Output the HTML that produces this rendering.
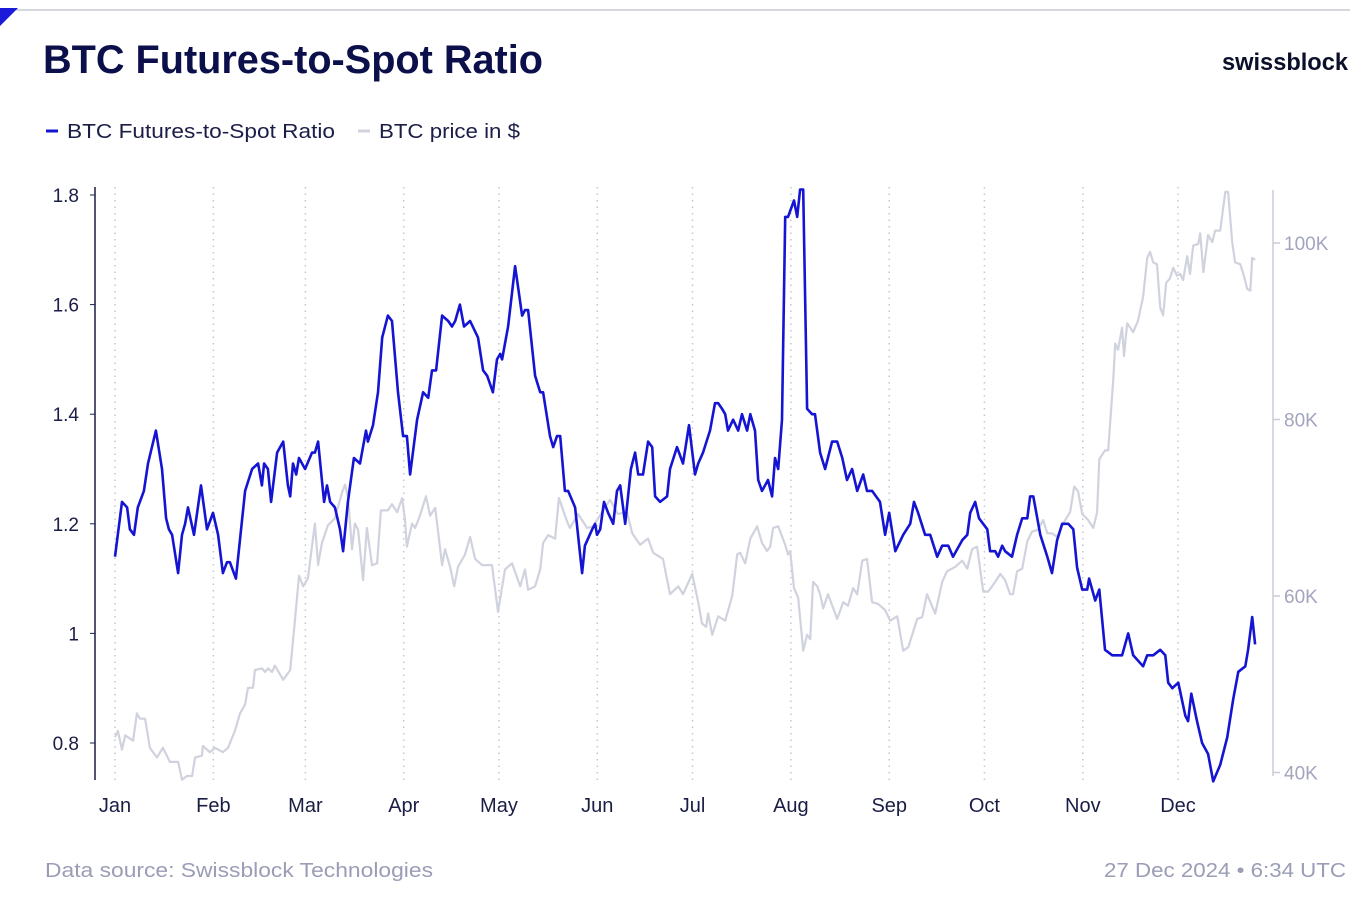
<!DOCTYPE html>
<html><head><meta charset="utf-8">
<style>
html,body{margin:0;padding:0;background:#fff;}
body{width:1350px;height:900px;position:relative;overflow:hidden;font-family:"Liberation Sans",sans-serif;}
svg{position:absolute;left:0;top:0;}
</style></head>
<body>
<svg id="chart" width="1350" height="900" viewBox="0 0 1350 900">
  <line x1="0" y1="10" x2="1350" y2="10" stroke="#c9cad6" stroke-width="1.5"/>
  <polygon points="0,8 18,8 0,26" fill="#1a1ad8"/>
  <text x="43" y="73" font-size="40" font-weight="bold" fill="#0b0f4a" textLength="500" lengthAdjust="spacingAndGlyphs">BTC Futures-to-Spot Ratio</text>
  <text x="1222" y="70" font-size="24" font-weight="bold" fill="#0b0f2a" textLength="126" lengthAdjust="spacingAndGlyphs">swissblock</text>
  <g>
    <g>
      <line x1="46" y1="131" x2="58" y2="131" stroke="#1414d2" stroke-width="3"/>
      <text x="67" y="138" font-size="20" fill="#1a1d45" textLength="268" lengthAdjust="spacingAndGlyphs">BTC Futures-to-Spot Ratio</text>
    </g>
    <g>
      <line x1="358" y1="131" x2="370" y2="131" stroke="#d0d2de" stroke-width="3"/>
      <text x="379" y="138" font-size="20" fill="#1a1d45" textLength="141" lengthAdjust="spacingAndGlyphs">BTC price in $</text>
    </g>
  </g>
  <g id="grid"></g>
  <g id="axes"></g>
  <g id="series"></g>
  <text x="45" y="877" font-size="20" fill="#9a9db5" textLength="388" lengthAdjust="spacingAndGlyphs">Data source: Swissblock Technologies</text>
  <text x="1104" y="877" font-size="20" fill="#9a9db5" textLength="242" lengthAdjust="spacingAndGlyphs">27 Dec 2024 • 6:34 UTC</text>
</svg>
<script>
const monthLabels=["Jan","Feb","Mar","Apr","May","Jun","Jul","Aug","Sep","Oct","Nov","Dec"];
const monthStartDays=[0,31,60,91,121,152,182,213,244,274,305,335];
const leftTicks=[0.8,1,1.2,1.4,1.6,1.8];
const leftTickLabels=["0.8","1","1.2","1.4","1.6","1.8"];
const rightTicks=[40,60,80,100];
const rightTickLabels=["40K","60K","80K","100K"];
const ratioDays=[0,2.2,3.8,4.7,6.0,7.2,9.1,10.4,12.9,14.8,16.1,17.0,18.0,19.9,21.1,22.1,23.0,24.9,27.1,29.0,30.9,32.5,34.0,35.3,36.2,38.1,41.0,43.2,45.1,46.3,47.0,48.2,49.2,51.1,53.0,54.5,55.2,56.1,57.1,58.0,59.9,62.1,63.0,64.0,65.2,65.9,66.8,67.8,69.3,70.9,71.9,73.4,75.3,77.2,79.1,79.7,81.3,82.9,84.2,86.0,87.3,89.2,90.8,92.0,93.0,95.2,97.1,98.7,99.9,101.2,103.1,105.0,106.2,107.2,108.7,110.0,111.9,114.4,116.0,117.3,119.1,120.4,121.4,122.0,123.9,126.1,128.3,129.2,130.2,132.4,134.0,134.9,137.1,138.1,139.3,140.3,141.8,142.8,145.0,147.2,148.1,150.4,151.3,151.9,152.9,154.1,155.4,157.0,158.2,159.2,160.8,162.6,163.9,164.9,166.4,168.0,169.3,170.2,171.8,174.0,174.9,177.1,179.0,180.9,182.8,183.8,185.3,187.5,189.1,190.1,191.3,192.3,193.2,194.8,196.4,197.6,199.2,200.2,201.7,202.7,203.9,205.8,207.1,208.0,209.0,210.2,211.2,212.1,214.0,215.0,215.9,216.9,218.1,219.7,220.6,222.2,223.8,226.0,227.6,229.2,230.7,232.3,233.9,235.8,237.0,238.6,241.1,242.7,244.0,245.9,248.4,250.6,251.8,253.1,255.3,256.9,259.1,260.7,261.6,262.6,264.1,267.0,268.6,269.5,271.1,272.3,274.9,275.8,277.4,278.3,279.6,280.5,282.7,284.3,285.9,287.5,288.4,289.4,291.6,293.8,295.3,296.9,298.5,300.4,302.0,303.2,304.8,306.4,307.0,308.9,310.2,312.0,314.3,315.8,317.4,319.3,320.9,324.0,325.3,327.2,329.4,331.0,331.9,333.2,335.1,337.3,338.2,339.2,341.0,342.6,344.5,346.1,348.3,350.5,352.4,354.0,356.2,357.1,358.4,359.3];
const ratioValues=[1.14,1.24,1.23,1.19,1.18,1.23,1.26,1.31,1.37,1.30,1.21,1.19,1.18,1.11,1.18,1.20,1.23,1.18,1.27,1.19,1.22,1.18,1.11,1.13,1.13,1.10,1.26,1.30,1.31,1.27,1.31,1.30,1.24,1.33,1.35,1.27,1.25,1.31,1.29,1.32,1.30,1.33,1.33,1.35,1.28,1.24,1.27,1.24,1.23,1.19,1.15,1.24,1.32,1.31,1.37,1.35,1.38,1.44,1.54,1.58,1.57,1.44,1.36,1.36,1.29,1.39,1.44,1.43,1.48,1.48,1.58,1.57,1.56,1.57,1.60,1.56,1.57,1.54,1.48,1.47,1.44,1.50,1.51,1.50,1.56,1.67,1.58,1.59,1.59,1.47,1.44,1.44,1.36,1.34,1.36,1.36,1.26,1.26,1.23,1.11,1.16,1.19,1.20,1.18,1.19,1.24,1.22,1.20,1.26,1.27,1.20,1.30,1.33,1.29,1.29,1.35,1.34,1.25,1.24,1.25,1.30,1.34,1.31,1.38,1.29,1.31,1.33,1.37,1.42,1.42,1.41,1.40,1.37,1.39,1.37,1.40,1.37,1.40,1.37,1.28,1.26,1.28,1.25,1.32,1.30,1.39,1.76,1.76,1.79,1.76,1.81,1.81,1.41,1.40,1.40,1.33,1.30,1.35,1.35,1.32,1.28,1.30,1.26,1.29,1.26,1.26,1.24,1.18,1.22,1.15,1.18,1.20,1.24,1.22,1.18,1.18,1.14,1.16,1.16,1.16,1.14,1.17,1.18,1.22,1.24,1.21,1.19,1.15,1.15,1.14,1.16,1.15,1.14,1.18,1.21,1.21,1.25,1.25,1.18,1.14,1.11,1.17,1.20,1.20,1.19,1.12,1.08,1.08,1.10,1.06,1.08,0.97,0.96,0.96,0.96,1.00,0.96,0.94,0.96,0.96,0.97,0.96,0.91,0.90,0.91,0.85,0.84,0.89,0.84,0.80,0.78,0.73,0.76,0.81,0.88,0.93,0.94,0.97,1.03,0.98];
const priceDays=[0,0.9,2.2,3.2,5.7,6.9,7.9,9.5,11.0,13.2,15.1,17.3,19.9,21.1,22.7,24.3,25.2,27.4,27.7,29.9,31.5,34.0,35.6,37.8,39.4,41.0,41.9,43.5,44.1,46.3,47.3,48.2,49.5,50.4,53.0,55.2,56.7,58.0,59.3,60.8,63.0,64.0,65.2,67.1,69.3,71.6,72.5,73.4,74.7,75.6,76.6,78.2,79.4,81.0,82.6,83.8,86.0,87.3,88.9,90.5,91.4,92.0,93.6,94.6,96.1,98.0,99.3,100.9,103.1,104.0,105.6,106.9,108.1,110.3,111.9,113.5,115.7,118.8,120.7,122.9,125.1,127.7,129.2,130.2,132.4,134.0,134.9,136.5,138.7,139.9,142.5,143.4,145.9,148.8,150.7,153.8,156.0,158.5,161.4,163.0,165.5,168.0,169.6,172.7,174.9,177.5,179.0,181.9,183.8,185.0,186.3,186.9,188.2,190.1,192.3,194.5,196.1,197.0,198.6,200.2,202.4,203.9,205.5,206.5,207.4,209.0,211.2,212.1,212.8,214.0,215.3,216.9,218.1,219.1,220.0,221.3,222.2,223.2,224.7,227.6,229.5,231.0,232.6,233.9,235.5,237.0,238.6,240.5,242.7,244.3,246.5,248.4,250.0,252.8,254.4,255.9,258.5,260.7,262.2,264.8,267.0,268.6,270.1,271.7,273.6,275.2,277.4,279.0,280.5,282.1,283.0,284.3,285.9,287.5,289.0,290.9,292.5,293.8,295.3,296.9,298.8,301.0,302.3,303.5,304.8,306.7,308.3,309.5,310.2,312.0,313.0,314.6,315.2,316.1,317.4,318.0,319.0,320.9,322.4,324.0,325.3,326.2,327.2,328.4,329.4,330.3,331.3,332.5,333.5,334.7,335.7,336.6,337.9,338.8,339.8,341.4,342.0,343.0,344.5,345.8,346.7,348.3,349.9,350.8,352.1,353.0,354.6,355.6,356.8,357.8,358.4,359.3];
const priceValuesK=[44.0,44.7,42.6,44.2,43.6,46.7,46.1,46.1,42.8,41.7,42.8,41.2,41.2,39.2,39.6,39.6,41.7,41.9,43.0,42.3,42.8,42.3,42.8,44.7,46.7,47.7,49.6,49.6,51.6,51.8,51.4,51.8,51.4,52.1,50.5,51.6,57.2,62.3,61.1,62.0,68.2,63.5,66.0,68.0,68.8,71.8,72.6,71.3,65.3,68.2,67.5,61.8,67.7,63.5,63.7,69.7,69.7,70.4,69.5,71.1,68.6,65.6,68.2,67.7,69.1,71.3,69.1,70.0,63.5,65.3,63.3,61.1,63.3,64.7,66.7,64.2,63.5,63.5,58.2,63.0,63.7,61.1,63.0,60.7,61.1,63.0,66.0,66.9,66.5,71.1,68.4,67.7,69.3,67.7,67.9,69.7,70.9,69.3,69.5,67.1,65.8,66.5,64.9,64.2,60.2,61.1,60.2,62.5,59.3,56.9,56.5,58.0,55.6,57.7,57.2,60.0,64.7,64.9,63.7,66.5,67.9,66.0,65.1,65.6,67.7,67.9,65.8,64.7,65.1,60.9,59.8,53.8,55.6,55.1,61.6,61.1,60.2,58.6,60.2,57.4,59.3,58.9,60.9,60.2,64.0,64.2,59.3,59.1,58.4,57.2,57.7,53.8,54.2,57.4,57.6,60.2,58.0,61.6,62.8,63.3,64.0,63.1,65.3,65.6,60.5,60.5,61.6,62.5,61.8,60.2,60.2,62.8,63.1,66.2,67.3,67.5,68.6,67.1,67.1,66.7,68.2,69.5,72.4,71.9,69.3,68.6,67.7,69.5,75.5,76.5,76.5,84.6,88.6,87.9,90.4,87.2,90.9,89.9,91.2,93.9,98.3,99.0,97.8,97.6,92.7,91.8,95.5,96.0,97.2,96.3,96.5,95.8,98.5,96.5,99.7,99.9,101.1,96.7,100.9,100.1,101.4,101.4,105.8,105.8,100.1,97.8,97.6,96.5,94.8,94.6,98.3,98.1];

const NS="http://www.w3.org/2000/svg";
const X0=115, PX_PER_DAY=3.1731;
const xScale=d=>X0+d*PX_PER_DAY;
const yLeft=v=>195+(1.8-v)*548;
const yRight=p=>243+(100-p)*8.825;
const TOP=187, BOTTOM=780;

function mk(tag,attrs,parent){const e=document.createElementNS(NS,tag);for(const k in attrs)e.setAttribute(k,attrs[k]);parent.appendChild(e);return e;}
const grid=document.getElementById('grid'), axes=document.getElementById('axes'), series=document.getElementById('series');

monthStartDays.forEach((d,i)=>{
  const x=xScale(d);
  const gl=mk('line',{x1:x,y1:TOP,x2:x,y2:BOTTOM,stroke:'#c4c6d2','stroke-width':1.5,'stroke-dasharray':'1.5 5'},grid);
  
  
  const t=mk('text',{x:x,y:812,'font-size':20,fill:'#1a1d45','text-anchor':'middle'},axes);
  t.textContent=monthLabels[i];
  
  
});

const la=mk('line',{x1:95,y1:TOP,x2:95,y2:BOTTOM,stroke:'#1a1d45','stroke-width':1.5},axes);


leftTicks.forEach((v,i)=>{
  const y=yLeft(v);
  mk('line',{x1:90,y1:y,x2:95,y2:y,stroke:'#1a1d45','stroke-width':1},axes);
  const t=mk('text',{x:79,y:y+7,'font-size':19,fill:'#1a1d45','text-anchor':'end'},axes);
  t.textContent=leftTickLabels[i];
  
  
});

const ra=mk('line',{x1:1273,y1:190,x2:1273,y2:776,stroke:'#c9cbd8','stroke-width':1.5},axes);


rightTicks.forEach((p,i)=>{
  const y=yRight(p);
  mk('line',{x1:1273,y1:y,x2:1280,y2:y,stroke:'#c9cbd8','stroke-width':1.5},axes);
  const t=mk('text',{x:1284,y:y+7,'font-size':19,fill:'#a2a5bd'},axes);
  t.textContent=rightTickLabels[i];
  
  
});

const pricePts=priceDays.map((d,i)=>xScale(d).toFixed(1)+','+yRight(priceValuesK[i]).toFixed(1)).join(' ');
const pl=mk('polyline',{points:pricePts,fill:'none',stroke:'#d0d2de','stroke-width':2.2,'stroke-linejoin':'round'},series);



const ratioPts=ratioDays.map((d,i)=>xScale(d).toFixed(1)+','+yLeft(ratioValues[i]).toFixed(1)).join(' ');
const rl=mk('polyline',{points:ratioPts,fill:'none',stroke:'#1414d2','stroke-width':2.6,'stroke-linejoin':'round'},series);


</script>
</body></html>
